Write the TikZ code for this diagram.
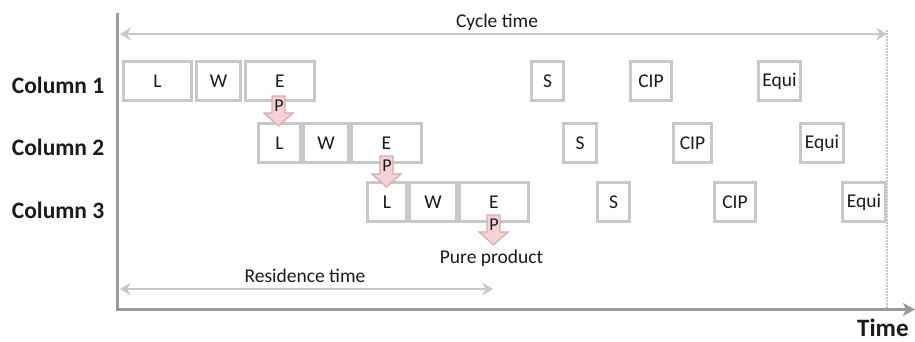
\documentclass[tikz,border=0pt]{standalone}
\usepackage{fontspec}
\setmainfont{Carlito}
\usetikzlibrary{arrows.meta}
\definecolor{boxgray}{HTML}{C8C8C8}
\definecolor{axisgray}{HTML}{9A9A9A}
\definecolor{pfill}{HTML}{F4D3D6}
\definecolor{pline}{HTML}{E0A6AC}
\definecolor{txt}{HTML}{1A1A1A}
\tikzset{
  blk/.style={draw=boxgray, line width=3pt, inner sep=0pt, text=txt,
    font=\fontsize{19.5}{22}\selectfont},
  span/.style={draw=boxgray, line width=2pt,
    {Stealth[length=11pt,width=13pt,inset=4pt]}-{Stealth[length=11pt,width=13pt,inset=4pt]}},
  axis/.style={draw=axisgray, line width=3pt},
  parrow/.style={fill=pfill, draw=pline, line width=1.2pt, line join=miter},
  lbl/.style={text=txt, font=\fontsize{19.5}{22}\selectfont, anchor=base, inner sep=0pt},
  rowlbl/.style={text=txt, font=\fontsize{23.5}{26}\bfseries\selectfont, anchor=base west, inner sep=0pt},
  ptext/.style={text=txt, font=\fontsize{18}{20}\selectfont, inner sep=0pt},
}
\begin{document}
\begin{tikzpicture}[x=1pt,y=-1pt]
\useasboundingbox (0,0) rectangle (915,341);

% time axes
\coordinate (ytop) at (117.5,13);
\coordinate (org) at (117.5,309.5);
\coordinate (xend) at (915,309.5);
\draw[axis] (ytop) -- (org);
\draw[axis, -{Stealth[length=12pt,width=13pt,inset=3pt]}] (116,309.5) -- (xend);
\node[rowlbl, font=\fontsize{25}{27}\bfseries\selectfont] (time) at (857,336.5) {Time};

% end of the cycle
\coordinate (cyc0) at (120,34);
\coordinate (cyc1) at (887,34);
\coordinate (cycbot) at (887,308);
\draw[boxgray, line width=2pt, dash pattern=on 1.5pt off 1.5pt] (887,30) -- (cycbot);
\draw[span] (cyc0) -- (cyc1);
\node[lbl] (cyclbl) at (497,27.5) {Cycle time};

% column labels
\node[rowlbl] (c1) at (11.7,93.3) {Column 1};
\node[rowlbl] (c2) at (11.7,155.5) {Column 2};
\node[rowlbl] (c3) at (11.7,218.3) {Column 3};

% column 1
\node[blk, minimum width=68pt, minimum height=39pt] (l1) at (157.5,81) {L};
\node[blk, minimum width=44pt, minimum height=39pt] (w1) at (218.5,81) {W};
\node[blk, minimum width=69pt, minimum height=39pt] (e1) at (280,81) {E};
\node[blk, minimum width=32pt, minimum height=39pt] (s1) at (547.5,81) {S};
\node[blk, minimum width=41pt, minimum height=39pt] (cip1) at (651,81) {CIP};
\node[blk, minimum width=42pt, minimum height=39pt] (eq1) at (779.5,81) {Equi};

% column 2
\node[blk, minimum width=42pt, minimum height=39pt] (l2) at (279.5,143) {L};
\node[blk, minimum width=45pt, minimum height=39pt] (w2) at (326,143) {W};
\node[blk, minimum width=70pt, minimum height=39pt] (e2) at (386.5,143) {E};
\node[blk, minimum width=33pt, minimum height=39pt] (s2) at (580,143) {S};
\node[blk, minimum width=38pt, minimum height=39pt] (cip2) at (692.5,143) {CIP};
\node[blk, minimum width=43pt, minimum height=39pt] (eq2) at (822,143) {Equi};

% column 3
\node[blk, minimum width=39pt, minimum height=39pt] (l3) at (387,202) {L};
\node[blk, minimum width=47pt, minimum height=39pt] (w3) at (433,202) {W};
\node[blk, minimum width=69pt, minimum height=39pt] (e3) at (494,202) {E};
\node[blk, minimum width=32pt, minimum height=39pt] (s3) at (613.5,202) {S};
\node[blk, minimum width=41pt, minimum height=39pt] (cip3) at (735,202) {CIP};
\node[blk, minimum width=43pt, minimum height=39pt] (eq3) at (864,202) {Equi};

% product transfer arrows
\draw[parrow] (272,96) -- (285,96) -- (285,113) -- (293,113) -- (278.5,126)
  -- (264,113) -- (272,113) -- cycle;
\node[ptext] (p1) at (279,106) {P};
\draw[parrow] (380,156) -- (393,156) -- (393,174) -- (401,174) -- (386.5,187)
  -- (372,174) -- (380,174) -- cycle;
\node[ptext] (p2) at (387,166) {P};
\draw[parrow] (487,215) -- (500,215) -- (500,232) -- (508,232) -- (493.5,245)
  -- (479,232) -- (487,232) -- cycle;
\node[ptext] (p3) at (494,225) {P};
\node[lbl] (pure) at (491.5,263) {Pure product};

% residence time
\coordinate (res0) at (120,289);
\coordinate (res1) at (493,289);
\draw[span] (res0) -- (res1);
\node[lbl] (reslbl) at (305,282.7) {Residence time};
\end{tikzpicture}
\end{document}
